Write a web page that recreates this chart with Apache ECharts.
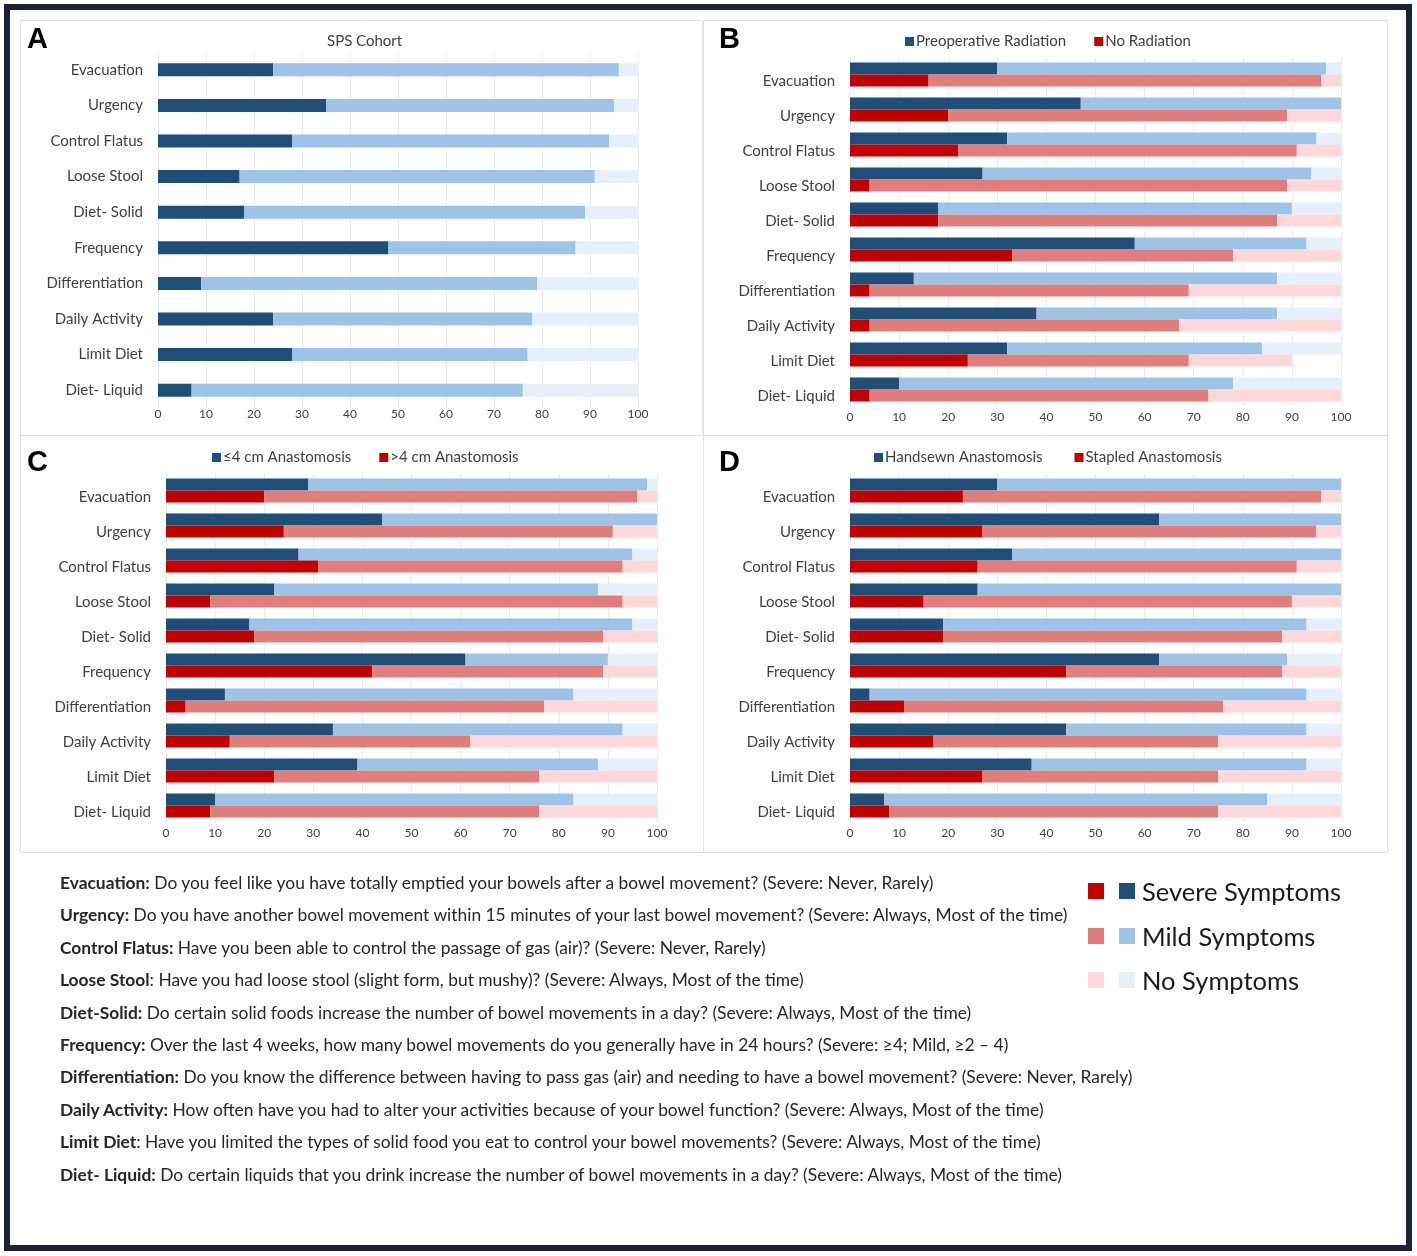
<!DOCTYPE html>
<html>
<head>
<meta charset="utf-8">
<script src="https://cdn.jsdelivr.net/npm/echarts@6/dist/echarts.min.js"></script>
<style>
  html, body { margin: 0; padding: 0; background: #fff; }
  #wrap { position: relative; width: 1417px; height: 1256px; overflow: hidden; }
  #chart { position: absolute; left: 0; top: 0; width: 1417px; height: 1256px; }
  #notes { position: absolute; left: 60px; top: 869px; font-family: Lato, "Open Sans", sans-serif; font-size: 17.4px; color: #262626; }
  #notes div { height: 32.4px; line-height: 28px; white-space: nowrap; }
  #notes b { font-weight: 700; }
  #symleg { position: absolute; left: 1088px; top: 874px; font-family: Lato, "Open Sans", sans-serif; font-size: 25.5px; color: #1a1a1a; }
  #symleg .row { position: relative; height: 44.5px; }
  #symleg .sq { position: absolute; top: 9px; width: 16px; height: 16px; }
  #symleg .txt { position: absolute; left: 54px; top: 0; line-height: 34px; white-space: nowrap; }
</style>
</head>
<body>
<div id="wrap">
  <div id="chart"></div>
  <div id="notes"></div>
  <div id="symleg"></div>
</div>
<script>
// ---------- data ----------
const categories = ['Evacuation','Urgency','Control Flatus','Loose Stool','Diet- Solid','Frequency','Differentiation','Daily Activity','Limit Diet','Diet- Liquid'];
const xTicks = [0,10,20,30,40,50,60,70,80,90,100];

// Panel A: SPS Cohort
const spsSevere = [24,35,28,17,18,48,9,24,28,7];
const spsMild   = [72,60,66,74,71,39,70,54,49,69];
const spsNone   = [4,5,6,9,11,13,21,22,23,24];

// Panel B: radiation
const radSevere   = [30,47,32,27,18,58,13,38,32,10];
const radMild     = [67,53,63,67,72,35,74,49,52,68];
const radNone     = [3,0,5,6,10,7,13,13,16,22];
const noRadSevere = [16,20,22,4,18,33,4,4,24,4];
const noRadMild   = [80,69,69,85,69,45,65,63,45,69];
const noRadNone   = [4,11,9,11,13,22,31,33,21,27];

// Panel C: anastomosis height
const le4Severe = [29,44,27,22,17,61,12,34,39,10];
const le4Mild   = [69,56,68,66,78,29,71,59,49,73];
const le4None   = [2,0,5,12,5,10,17,7,12,17];
const gt4Severe = [20,24,31,9,18,42,4,13,22,9];
const gt4Mild   = [76,67,62,84,71,47,73,49,54,67];
const gt4None   = [4,9,7,7,11,11,23,38,24,24];

// Panel D: anastomosis technique
const handSevere = [30,63,33,26,19,63,4,44,37,7];
const handMild   = [70,37,67,74,74,26,89,49,56,78];
const handNone   = [0,0,0,0,7,11,7,7,7,15];
const stapSevere = [23,27,26,15,19,44,11,17,27,8];
const stapMild   = [73,68,65,75,69,44,65,58,48,67];
const stapNone   = [4,5,9,10,12,12,24,25,25,25];

const noteLabels = ['Evacuation:','Urgency:','Control Flatus:','Loose Stool','Diet-Solid:','Frequency:','Differentiation:','Daily Activity:','Limit Diet','Diet- Liquid:'];
const noteTexts = [
  ' Do you feel like you have totally emptied your bowels after a bowel movement? (Severe: Never, Rarely)',
  ' Do you have another bowel movement within 15 minutes of your last bowel movement? (Severe: Always, Most of the time)',
  ' Have you been able to control the passage of gas (air)? (Severe: Never, Rarely)',
  ': Have you had loose stool (slight form, but mushy)? (Severe: Always, Most of the time)',
  ' Do certain solid foods increase the number of bowel movements in a day? (Severe: Always, Most of the time)',
  ' Over the last 4 weeks, how many bowel movements do you generally have in 24 hours? (Severe: \u22654; Mild, \u22652 \u2013 4)',
  ' Do you know the difference between having to pass gas (air) and needing to have a bowel movement? (Severe: Never, Rarely)',
  ' How often have you had to alter your activities because of your bowel function? (Severe: Always, Most of the time)',
  ': Have you limited the types of solid food you eat to control your bowel movements? (Severe: Always, Most of the time)',
  ' Do certain liquids that you drink increase the number of bowel movements in a day? (Severe: Always, Most of the time)'
];
const symLegend = ['Severe Symptoms','Mild Symptoms','No Symptoms'];

// ---------- styles ----------
const BLUE = ['#1F4E79','#9DC3E6','#E6F0FA'];
const RED  = ['#C00000','#E07E7E','#FFD8DA'];
const FONT = 'Lato, "Open Sans", sans-serif';
const TXT = '#404040';

// ---------- html text ----------
const notes = document.getElementById('notes');
noteLabels.forEach((l, i) => {
  const d = document.createElement('div');
  const b = document.createElement('b'); b.textContent = l;
  d.appendChild(b); d.appendChild(document.createTextNode(noteTexts[i]));
  notes.appendChild(d);
});
const symleg = document.getElementById('symleg');
symLegend.forEach((t, i) => {
  const r = document.createElement('div'); r.className = 'row';
  r.innerHTML = '<div class="sq" style="left:0;background:' + RED[i] + '"></div>' +
                '<div class="sq" style="left:31px;background:' + BLUE[i] + '"></div>' +
                '<div class="txt">' + t + '</div>';
  symleg.appendChild(r);
});

// ---------- chart ----------
const grids = [
  { left: 158, top: 52, width: 480, height: 356 },
  { left: 850, top: 57, width: 491, height: 350 },
  { left: 166, top: 473, width: 491, height: 350 },
  { left: 850, top: 473, width: 491, height: 350 }
];
const xAxes = grids.map((g, i) => ({
  type: 'value', gridIndex: i, min: 0, max: 100, interval: 10,
  axisLine: { show: false }, axisTick: { show: false },
  splitLine: { show: true, lineStyle: { color: '#ececec', width: 1 } },
  axisLabel: { color: TXT, fontFamily: FONT, fontSize: 12, margin: i === 0 ? 0 : 4,
    formatter: v => xTicks.indexOf(v) >= 0 ? String(v) : '' }
}));
const yAxes = grids.map((g, i) => ({
  type: 'category', gridIndex: i, data: categories, inverse: true,
  axisLine: { show: false }, axisTick: { show: false }, splitLine: { show: false },
  axisLabel: i === 0
    ? { color: TXT, fontFamily: FONT, fontSize: 15, margin: 15 }
    : { color: TXT, fontFamily: FONT, fontSize: 15, margin: 15, verticalAlign: 'top', lineHeight: 13 }
}));

const series = [];
function addStack(idx, stack, names, arrays, colors, width) {
  arrays.forEach((arr, k) => {
    series.push({
      type: 'bar', name: names[k], xAxisIndex: idx, yAxisIndex: idx, stack: stack,
      data: arr, barWidth: width, barGap: '0%', barCategoryGap: '30%',
      itemStyle: { color: colors[k] }, emphasis: { disabled: true },
      animation: false
    });
  });
}
addStack(0, 'sps', ['SPS Severe','SPS Mild','SPS None'], [spsSevere, spsMild, spsNone], BLUE, 13);
addStack(1, 'rad', ['Preoperative Radiation','Preoperative Radiation Mild','Preoperative Radiation None'], [radSevere, radMild, radNone], BLUE, 12);
addStack(1, 'norad', ['No Radiation','No Radiation Mild','No Radiation None'], [noRadSevere, noRadMild, noRadNone], RED, 12);
addStack(2, 'le4', ['\u22644 cm Anastomosis','\u22644 Mild','\u22644 None'], [le4Severe, le4Mild, le4None], BLUE, 12);
addStack(2, 'gt4', ['>4 cm Anastomosis','>4 Mild','>4 None'], [gt4Severe, gt4Mild, gt4None], RED, 12);
addStack(3, 'hand', ['Handsewn Anastomosis','Handsewn Mild','Handsewn None'], [handSevere, handMild, handNone], BLUE, 12);
addStack(3, 'stap', ['Stapled Anastomosis','Stapled Mild','Stapled None'], [stapSevere, stapMild, stapNone], RED, 12);

function legend(names, left, top, gap) {
  return {
    data: names, left: left, top: top, orient: 'horizontal', icon: 'rect',
    itemWidth: 9, itemHeight: 9, itemGap: gap, selectedMode: false,
    textStyle: { color: TXT, fontFamily: FONT, fontSize: 15, padding: [0, 0, 0, -3] }
  };
}

function letter(t, x, y) {
  return { type: 'text', left: x, top: y, style: { text: t, font: 'bold 29px "Liberation Sans", Arial, sans-serif', fill: '#000' } };
}
function frame(x, y, w, h) {
  return { type: 'rect', shape: { x: x, y: y, width: w, height: h }, style: { fill: 'none', stroke: '#e4e4e4', lineWidth: 1 }, silent: true };
}

const option = {
  animation: false,
  backgroundColor: '#fff',
  title: { text: 'SPS Cohort', left: 322, top: 29,
    textStyle: { color: TXT, fontFamily: FONT, fontSize: 15, fontWeight: 'normal' } },
  grid: grids,
  xAxis: xAxes,
  yAxis: yAxes,
  legend: [
    legend(['Preoperative Radiation','No Radiation'], 900, 29, 28),
    legend(['\u22644 cm Anastomosis','>4 cm Anastomosis'], 207, 445, 28),
    legend(['Handsewn Anastomosis','Stapled Anastomosis'], 869, 445, 32)
  ],
  series: series,
  graphic: [
    frame(20.5, 20.5, 682, 415),
    frame(703.5, 20.5, 684, 415),
    frame(20.5, 435.5, 683, 417),
    frame(703.5, 435.5, 684, 417),
    { type: 'rect', shape: { x: 7, y: 7, width: 1402, height: 1241 }, style: { fill: 'none', stroke: '#1b2233', lineWidth: 6 }, silent: true },
    letter('A', 27, 25),
    letter('B', 719, 25),
    letter('C', 27, 448),
    letter('D', 719, 448)
  ]
};

const chart = echarts.init(document.getElementById('chart'), null, { renderer: 'canvas' });
chart.setOption(option);
</script>
</body>
</html>
